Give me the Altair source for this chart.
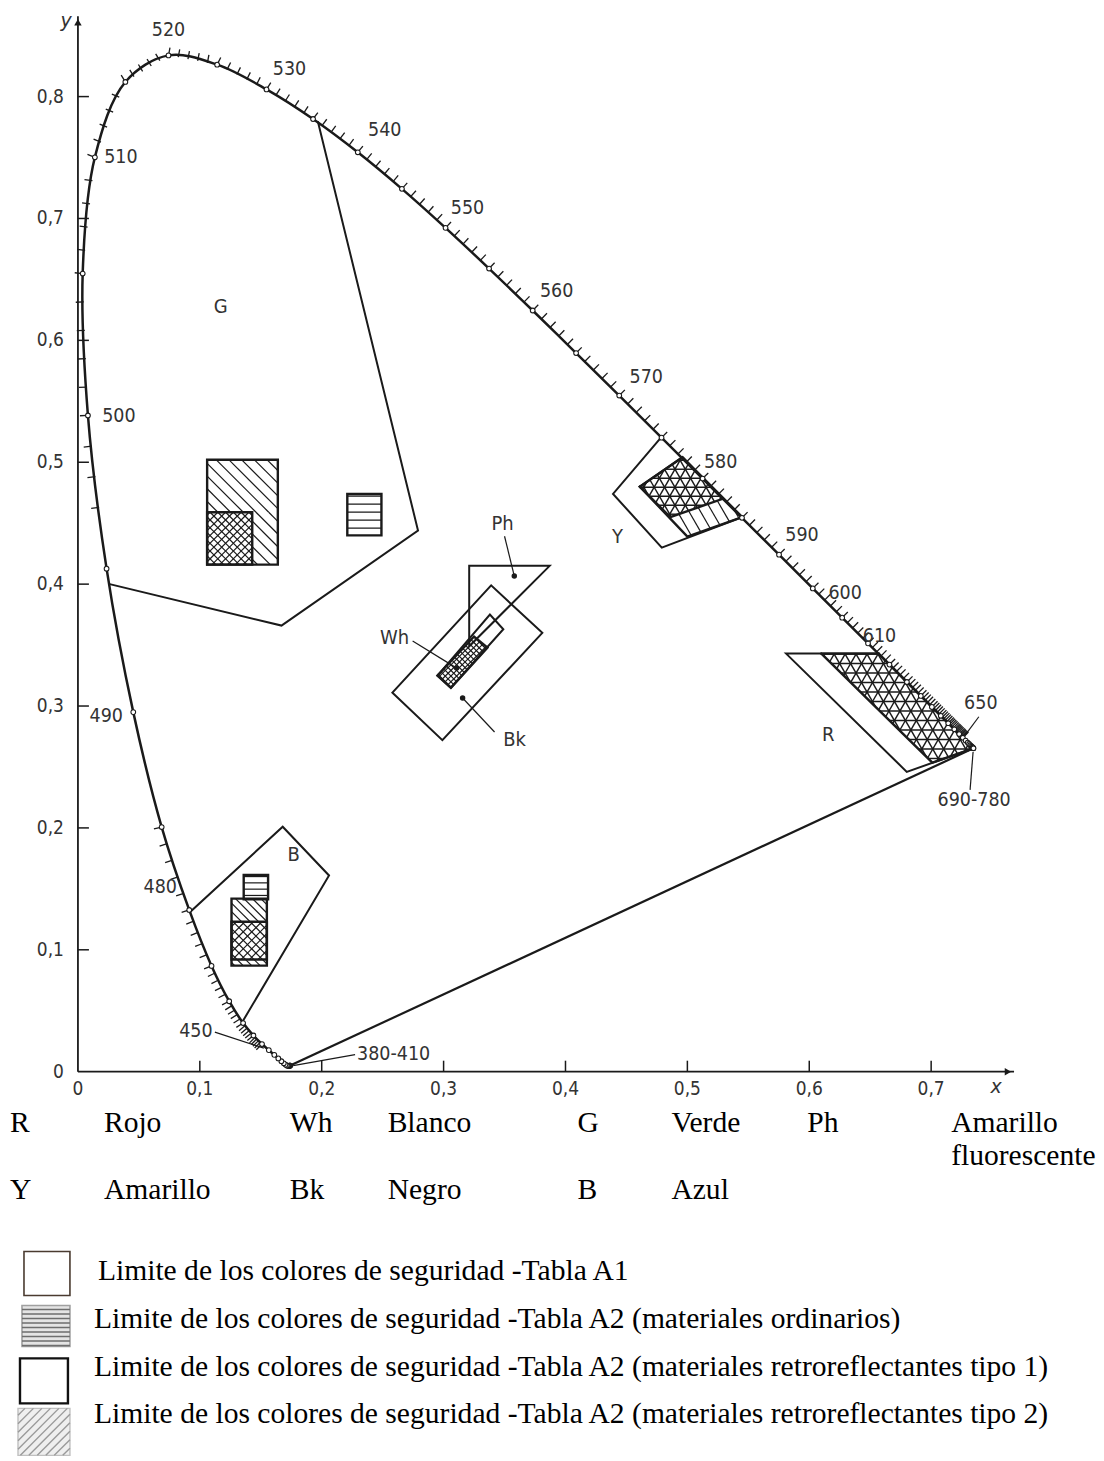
import math
import altair as alt
import pandas as pd

# ---------------- data ----------------
wavelength = list(range(380, 705, 5))
locus_x = [0.1741, 0.1740, 0.1738, 0.1736, 0.1733, 0.1730, 0.1726, 0.1721, 0.1714, 0.1703,
           0.1689, 0.1669, 0.1644, 0.1611, 0.1566, 0.1510, 0.1440, 0.1355, 0.1241, 0.1096,
           0.0913, 0.0687, 0.0454, 0.0235, 0.0082, 0.0039, 0.0139, 0.0389, 0.0743, 0.1142,
           0.1547, 0.1929, 0.2296, 0.2658, 0.3016, 0.3373, 0.3731, 0.4087, 0.4441, 0.4788,
           0.5125, 0.5448, 0.5752, 0.6029, 0.6270, 0.6482, 0.6658, 0.6801, 0.6915, 0.7006,
           0.7079, 0.7140, 0.7190, 0.7230, 0.7260, 0.7283, 0.7300, 0.7311, 0.7320, 0.7327,
           0.7334, 0.7340, 0.7344, 0.7346, 0.7347]
locus_y = [0.0050, 0.0050, 0.0049, 0.0049, 0.0048, 0.0048, 0.0048, 0.0048, 0.0051, 0.0058,
           0.0069, 0.0086, 0.0109, 0.0138, 0.0177, 0.0227, 0.0297, 0.0399, 0.0578, 0.0868,
           0.1327, 0.2007, 0.2950, 0.4127, 0.5384, 0.6548, 0.7502, 0.8120, 0.8338, 0.8262,
           0.8059, 0.7816, 0.7543, 0.7243, 0.6923, 0.6589, 0.6245, 0.5896, 0.5547, 0.5202,
           0.4866, 0.4544, 0.4242, 0.3965, 0.3725, 0.3514, 0.3340, 0.3197, 0.3083, 0.2993,
           0.2920, 0.2859, 0.2809, 0.2770, 0.2740, 0.2717, 0.2700, 0.2689, 0.2680, 0.2673,
           0.2666, 0.2660, 0.2656, 0.2654, 0.2653]

# Table A1 limits (open where the boundary follows the spectral locus)
a1_green = [(0.197, 0.779), (0.279, 0.444), (0.167, 0.366), (0.026, 0.400)]
a1_yellow = [(0.479, 0.521), (0.439, 0.474), (0.479, 0.430), (0.545, 0.455)]
a1_red = [(0.657, 0.343), (0.581, 0.343), (0.680, 0.246), (0.7347, 0.2653)]
a1_blue = [(0.092, 0.131), (0.168, 0.201), (0.206, 0.161), (0.135, 0.041)]
a1_white = [(0.295, 0.325), (0.338, 0.375), (0.349, 0.363), (0.306, 0.315), (0.295, 0.325)]
a1_black = [(0.258, 0.311), (0.339, 0.399), (0.381, 0.360), (0.299, 0.272), (0.258, 0.311)]
a1_phos = [(0.321, 0.415), (0.387, 0.415), (0.321, 0.349), (0.321, 0.415)]

# Table A2 limits
def rect(x1, y1, x2, y2):
    return [(x1, y1), (x2, y1), (x2, y2), (x1, y2)]

g_ret = rect(0.106, 0.416, 0.164, 0.502)
g_ret_a = rect(0.106, 0.459, 0.164, 0.502)
g_ret_b = rect(0.143, 0.416, 0.164, 0.459)
g_cross = rect(0.106, 0.416, 0.143, 0.459)
g_ord = rect(0.221, 0.440, 0.249, 0.474)
b_ord = rect(0.136, 0.1415, 0.156, 0.1615)
b_ret = rect(0.126, 0.087, 0.155, 0.142)
b_cross = rect(0.126, 0.092, 0.155, 0.123)
y_ret = [(0.461, 0.480), (0.496, 0.504), (0.545, 0.455), (0.500, 0.439)]
y_cross = [(0.461, 0.480), (0.496, 0.504), (0.529, 0.470), (0.486, 0.455)]
y_lines = [(0.486, 0.455), (0.529, 0.470), (0.545, 0.455), (0.500, 0.439)]
r_cross = [(0.610, 0.343), (0.657, 0.343), (0.7347, 0.2653), (0.701, 0.2535)]
w_cross = [(0.295, 0.325), (0.325, 0.357), (0.336, 0.348), (0.306, 0.315)]

# labels
wl_labels = [520, 530, 540, 550, 560, 570, 580, 590, 600, 610, 510, 500, 490, 480]
lead_labels = ["450", "380-410", "650", "690-780"]
lead_wl = [450, 380, 650, 690]
region_codes = ["G", "Y", "R", "B", "Ph", "Wh", "Bk"]
pointer_dots = [(0.358, 0.4066), (0.3107, 0.3311), (0.3156, 0.3066)]

x_tick_vals = [0.1, 0.2, 0.3, 0.4, 0.5, 0.6, 0.7]
x_label_vals = [0, 0.1, 0.2, 0.3, 0.4, 0.5, 0.6, 0.7]
x_label_text = ["0", "0,1", "0,2", "0,3", "0,4", "0,5", "0,6", "0,7"]
y_tick_vals = [0.1, 0.2, 0.3, 0.4, 0.5, 0.6, 0.7, 0.8]
y_label_vals = [0, 0.1, 0.2, 0.3, 0.4, 0.5, 0.6, 0.7, 0.8]
y_label_text = ["0", "0,1", "0,2", "0,3", "0,4", "0,5", "0,6", "0,7", "0,8"]

key_row1 = ["R", "Wh", "G", "Ph"]
name_row1 = ["Rojo", "Blanco", "Verde", "Amarillo\nfluorescente"]
key_row2 = ["Y", "Bk", "B"]
name_row2 = ["Amarillo", "Negro", "Azul"]
legend_text = [
    "Limite de los colores de seguridad -Tabla A1",
    "Limite de los colores de seguridad -Tabla A2 (materiales ordinarios)",
    "Limite de los colores de seguridad -Tabla A2 (materiales retroreflectantes tipo 1)",
    "Limite de los colores de seguridad -Tabla A2 (materiales retroreflectantes tipo 2)",
]

# ---------------- layout ----------------
PX = 1220.0          # pixels per chromaticity unit (same on x and y)
W1, H1 = 1088, 1100  # diagram panel
X0, Y0 = 70, 1064    # position of the origin inside the panel
W2, H2 = 1088, 345   # key panel
INK = "#1a1a1a"
TXT = "#333333"
TECH = "DejaVu Sans Condensed, Liberation Sans Narrow, DejaVu Sans, sans-serif"
SERIF = "Liberation Serif, Times New Roman, serif"
SERIF_SIZE = 29.6

xs = alt.Scale(domain=[-X0 / PX, (W1 - X0) / PX], nice=False, zero=False)
ys = alt.Scale(domain=[-(H1 - Y0) / PX, Y0 / PX], nice=False, zero=False)
xs2 = alt.Scale(domain=[0, W2], nice=False, zero=False)
ys2 = alt.Scale(domain=[0, H2], nice=False, zero=False, reverse=True)


def off(p, d):
    return (p[0] + d[0] / PX, p[1] - d[1] / PX)


loc = {w: (x, y) for w, x, y in zip(wavelength, locus_x, locus_y)}


def enc_xy(sx, sy):
    return dict(x=alt.X("x:Q", scale=sx, axis=None), y=alt.Y("y:Q", scale=sy, axis=None))


def lines_layer(polys, width, color=INK, sx=xs, sy=ys, **kw):
    rows = []
    for pid, pts in enumerate(polys):
        for o, (x, y) in enumerate(pts):
            rows.append(dict(id=pid, o=o, x=x, y=y))
    return alt.Chart(pd.DataFrame(rows)).mark_line(
        strokeWidth=width, color=color, strokeJoin="miter", strokeCap="square", **kw
    ).encode(detail="id:N", order="o:Q", **enc_xy(sx, sy))


def closed(p):
    return list(p) + [p[0]]


def rules_layer(segs, width, color=INK, sx=xs, sy=ys):
    df = pd.DataFrame(segs, columns=["x", "y", "x2", "y2"])
    return alt.Chart(df).mark_rule(strokeWidth=width, color=color).encode(
        x2="x2:Q", y2="y2:Q", **enc_xy(sx, sy))


def text_layer(pts, texts, size, font=TECH, color=TXT, align="center",
               baseline="middle", sx=xs, sy=ys, **kw):
    df = pd.DataFrame(dict(x=[p[0] for p in pts], y=[p[1] for p in pts], t=texts))
    return alt.Chart(df).mark_text(font=font, fontSize=size, color=color, align=align,
                                   baseline=baseline, **kw).encode(text="t:N", **enc_xy(sx, sy))


def hatch(poly, angle, spacing):
    th = math.radians(angle)
    dx, dy = math.cos(th), math.sin(th)
    nx, ny = -dy, dx
    proj = [nx * x + ny * y for x, y in poly]
    lo, hi = min(proj), max(proj)
    segs = []
    k = math.ceil(lo / spacing)
    n = len(poly)
    while k * spacing < hi:
        c = k * spacing
        pts = []
        for i in range(n):
            (ax, ay), (bx, by) = poly[i], poly[(i + 1) % n]
            da = nx * ax + ny * ay - c
            db = nx * bx + ny * by - c
            if (da < 0) != (db < 0):
                t = da / (da - db)
                pts.append((ax + t * (bx - ax), ay + t * (by - ay)))
        if len(pts) >= 2:
            pts.sort(key=lambda p: p[0] * dx + p[1] * dy)
            segs.append((pts[0][0], pts[0][1], pts[-1][0], pts[-1][1]))
        k += 1
    return segs


# ---------------- diagram panel ----------------
layers = []

# axes
layers.append(rules_layer([(0, 0, 0.768, 0), (0, 0, 0, 0.866)], 1.8))
layers.append(rules_layer([(v, 0, v, 11 / PX) for v in x_tick_vals] +
                          [(0, v, 11 / PX, v) for v in y_tick_vals], 1.5))
layers.append(alt.Chart(pd.DataFrame(dict(x=[0.763], y=[0.0]))).mark_point(
    shape="triangle-right", size=55, filled=True, color=INK, opacity=1).encode(**enc_xy(xs, ys)))
layers.append(alt.Chart(pd.DataFrame(dict(x=[0.0], y=[0.861]))).mark_point(
    shape="triangle-up", size=55, filled=True, color=INK, opacity=1).encode(**enc_xy(xs, ys)))
layers.append(text_layer([(v, -17 / PX) for v in x_label_vals], x_label_text, 19))
layers.append(text_layer([(-14 / PX, v) for v in y_label_vals], y_label_text, 19, align="right"))
layers.append(text_layer([(0.7533, -0.0123), (-0.0098, 0.8623)], ["x", "y"], 19,
                         font="DejaVu Sans", fontStyle="italic"))

# spectral locus (smooth) and purple line
layers.append(lines_layer([list(zip(locus_x, locus_y))], 2.5, interpolate="catmull-rom"))
layers.append(lines_layer([[loc[380], loc[700]]], 2.2))

# 1 nm graduation along the locus
ticks = []
tick_len = 8 / PX
for w in list(range(455, 486)) + list(range(497, 651)):
    i = (w - 380) // 5
    if i >= len(wavelength) - 1:
        continue
    t = (w - wavelength[i]) / 5.0
    ax, ay = locus_x[i], locus_y[i]
    bx, by = locus_x[i + 1], locus_y[i + 1]
    px_, py_ = ax + t * (bx - ax), ay + t * (by - ay)
    L = math.hypot(bx - ax, by - ay)
    nx, ny = -(by - ay) / L, (bx - ax) / L
    ticks.append((px_, py_, px_ + nx * tick_len, py_ + ny * tick_len))
layers.append(rules_layer(ticks, 1.3))

# Table A1 boundaries
layers.append(lines_layer([a1_green, a1_yellow, a1_red, a1_blue, a1_white, a1_black, a1_phos], 2.0))

# Table A2 hatching
segs = []
for p in (g_ret_a, g_ret_b):
    segs += hatch(p, -45, 9 / PX)
segs += hatch(g_cross, -45, 5.5 / PX) + hatch(g_cross, 45, 5.5 / PX)
segs += hatch(g_ord, 0, 8 / PX)
segs += hatch(b_ord, 0, 6.3 / PX)
segs += hatch(b_ret, -45, 6 / PX) + hatch(b_cross, 45, 6 / PX)
segs += hatch(y_lines, -60, 10 / PX)
segs += hatch(w_cross, 45, 4 / PX) + hatch(w_cross, -45, 4 / PX)
layers.append(rules_layer(segs, 1.2))
lattice = []
for a in (0, 60, -60):
    lattice += hatch(y_cross, a, 9 / PX)
    lattice += hatch(r_cross, a, 9.5 / PX)
layers.append(rules_layer(lattice, 1.45))

layers.append(lines_layer([closed(g_ret), closed(g_cross), closed(g_ord), closed(b_ord),
                           closed(b_ret), closed(b_cross), closed(y_ret), closed(y_cross),
                           closed(r_cross), closed(w_cross)], 2.4))

# locus points every 5 nm
layers.append(alt.Chart(pd.DataFrame(dict(x=locus_x, y=locus_y))).mark_point(
    shape="circle", size=22, fill="white", fillOpacity=1, stroke=INK, strokeWidth=1.1,
    opacity=1).encode(**enc_xy(xs, ys)))

# wavelength labels
wl_off = [(0, -25), (23, -20), (27, -22), (22, -20), (24, -20), (27, -19), (18, -17),
          (23, -20), (3, -25), (-10, -29), (26, 0), (31, 1), (-27, 4), (-29, -23)]
layers.append(text_layer([off(loc[w], d) for w, d in zip(wl_labels, wl_off)],
                         [str(w) for w in wl_labels], 19.5))
lead_text_off = [(-73, -19), (67, -12), (18, -35), (1, 52)]
lead_align = ["center", "left", "center", "center"]
for lab, w, d, al in zip(lead_labels, lead_wl, lead_text_off, lead_align):
    layers.append(text_layer([off(loc[w], d)], [lab], 19.5, align=al))
lead_lines = [((-54, -18), (-5, -2)), ((65, -11), (3, 0)), ((16, -21), (2, -2)), ((0, 4), (-3, 42))]
lsegs = []
for w, (a, b) in zip(lead_wl, lead_lines):
    p, q = off(loc[w], a), off(loc[w], b)
    lsegs.append((p[0], p[1], q[0], q[1]))

# region labels and pointers
region_pos = [(0.1172, 0.627), (0.4426, 0.4385), (0.6156, 0.2762), (0.177, 0.1779),
              (0.3484, 0.4492), (0.2598, 0.3557), (0.3582, 0.2721)]
layers.append(text_layer(region_pos, region_codes, 20))
lsegs += [(0.350, 0.4393, 0.358, 0.4066), (0.2746, 0.3533, 0.3107, 0.3311),
          (0.3156, 0.3066, 0.3418, 0.2787)]
layers.append(rules_layer(lsegs, 1.2))
layers.append(alt.Chart(pd.DataFrame(dict(x=[p[0] for p in pointer_dots],
                                          y=[p[1] for p in pointer_dots]))).mark_circle(
    size=30, color=INK, opacity=1).encode(**enc_xy(xs, ys)))

diagram = alt.layer(*layers).properties(width=W1, height=H1)

# ---------------- key panel ----------------
kl = []
key_x = [2, 282, 570, 800]
name_x = [96, 380, 664, 944]
row_base = [20, 87]
for codes, names, yb in ((key_row1, name_row1, row_base[0]), (key_row2, name_row2, row_base[1])):
    n = len(codes)
    kl.append(text_layer([(key_x[i], yb) for i in range(n)], codes, SERIF_SIZE, font=SERIF,
                         color="black", align="left", baseline="alphabetic", sx=xs2, sy=ys2))
    kl.append(text_layer([(name_x[i], yb) for i in range(n)], names, SERIF_SIZE, font=SERIF,
                         color="black", align="left", baseline="alphabetic", sx=xs2, sy=ys2,
                         lineBreak="\n", lineHeight=33))

text_x = [90, 86, 86, 86]
text_base = [169, 217, 265, 312]
kl.append(text_layer(list(zip(text_x, text_base)), legend_text, SERIF_SIZE, font=SERIF,
                     color="black", align="left", baseline="alphabetic", sx=xs2, sy=ys2))

sw = [(16, 140, 62, 184), (14, 194, 62, 235), (12, 247, 60, 292), (10, 297, 62, 344)]
sw_fill = ["white", "#e4e4e4", "white", "#efefef"]
sw_stroke = ["#4a3b30", "#a0a0a0", "#111111", "#c0c0c0"]
sw_width = [1.6, 1.6, 2.4, 1.4]
for (x1, y1, x2, y2), f, s, wdt in zip(sw, sw_fill, sw_stroke, sw_width):
    kl.append(alt.Chart(pd.DataFrame(dict(x=[x1], y=[y1], x2=[x2], y2=[y2]))).mark_rect(
        fill=f, stroke=s, strokeWidth=wdt).encode(x2="x2:Q", y2="y2:Q", **enc_xy(xs2, ys2)))
kl.append(rules_layer(hatch(rect(*sw[1]), 0, 4.5), 1.6, "#6e6e6e", sx=xs2, sy=ys2))
kl.append(rules_layer(hatch(rect(*sw[3]), -45, 6), 1.4, "#9a9a9a", sx=xs2, sy=ys2))

key = alt.layer(*kl).properties(width=W2, height=H2)

chart = alt.vconcat(diagram, key, spacing=0).properties(
    padding=0, background="white").configure_view(stroke=None)

chart.save("out.html", embed_options={"renderer": "svg", "actions": False})
